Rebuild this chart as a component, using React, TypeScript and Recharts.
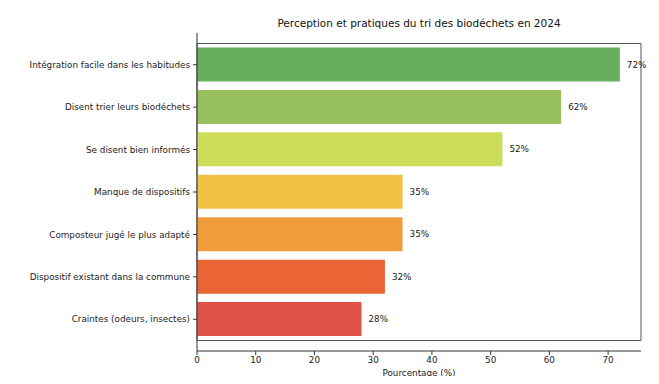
import { BarChart, Bar, XAxis, YAxis, Cell, LabelList, ReferenceArea } from "recharts";

const categories = [
  "Intégration facile dans les habitudes",
  "Disent trier leurs biodéchets",
  "Se disent bien informés",
  "Manque de dispositifs",
  "Composteur jugé le plus adapté",
  "Dispositif existant dans la commune",
  "Craintes (odeurs, insectes)",
];
const values = [72, 62, 52, 35, 35, 32, 28];
const colors = ["#66ad5c", "#98c15d", "#cddd5a", "#f3c144", "#f09c3d", "#ea6536", "#df5045"];
const xTicks = [0, 10, 20, 30, 40, 50, 60, 70];

const data = categories.map((name, i) => ({ name, value: values[i] }));

const font = "DejaVu Sans, sans-serif";
const small = 8.8;

// one-line category label (the default tick wraps long text)
const CategoryTick = (props: any) => {
  const { x, y, payload } = props;
  return (
    <text x={x} y={y} dy={3.2} textAnchor="end" fontSize={small} fill="#222" fontFamily={font}>
      {payload.value}
    </text>
  );
};

export default function App() {
  return (
    <div style={{ position: "relative", width: 659, height: 384, margin: -8, background: "#fff", fontFamily: font }}>
      <div
        style={{
          position: "absolute",
          top: 17,
          left: 197,
          width: 444,
          textAlign: "center",
          fontSize: 10.5,
          lineHeight: "12px",
          color: "#111",
        }}
      >
        Perception et pratiques du tri des biodéchets en 2024
      </div>
      <BarChart
        width={659}
        height={384}
        data={data}
        layout="vertical"
        margin={{ top: 33, right: 18, bottom: 3, left: 0 }}
        barSize={34}
      >
        <XAxis
          type="number"
          domain={[0, 75.6]}
          ticks={xTicks}
          height={30}
          tickSize={4}
          tickMargin={2}
          stroke="#333"
          tick={{ fontSize: small, fill: "#222", fontFamily: font }}
          label={{ value: "Pourcentage (%)", position: "insideBottom", offset: 5, fontSize: small, fill: "#222", fontFamily: font }}
        />
        <YAxis
          type="category"
          dataKey="name"
          width={197}
          tickSize={4}
          tickMargin={3}
          stroke="#333"
          padding={{ top: 10.5, bottom: 10.5 }}
          tick={<CategoryTick />}
          interval={0}
        />
        <ReferenceArea x1={0} x2={75.6} fill="none" stroke="#555" strokeWidth={1} ifOverflow="visible" />
        <Bar dataKey="value" isAnimationActive={false}>
          {data.map((d, i) => (
            <Cell key={d.name} fill={colors[i]} />
          ))}
          <LabelList
            dataKey="value"
            position="right"
            offset={7}
            formatter={(v: number) => `${v}%`}
            style={{ fontSize: small, fill: "#222", fontFamily: font }}
          />
        </Bar>
      </BarChart>
    </div>
  );
}
